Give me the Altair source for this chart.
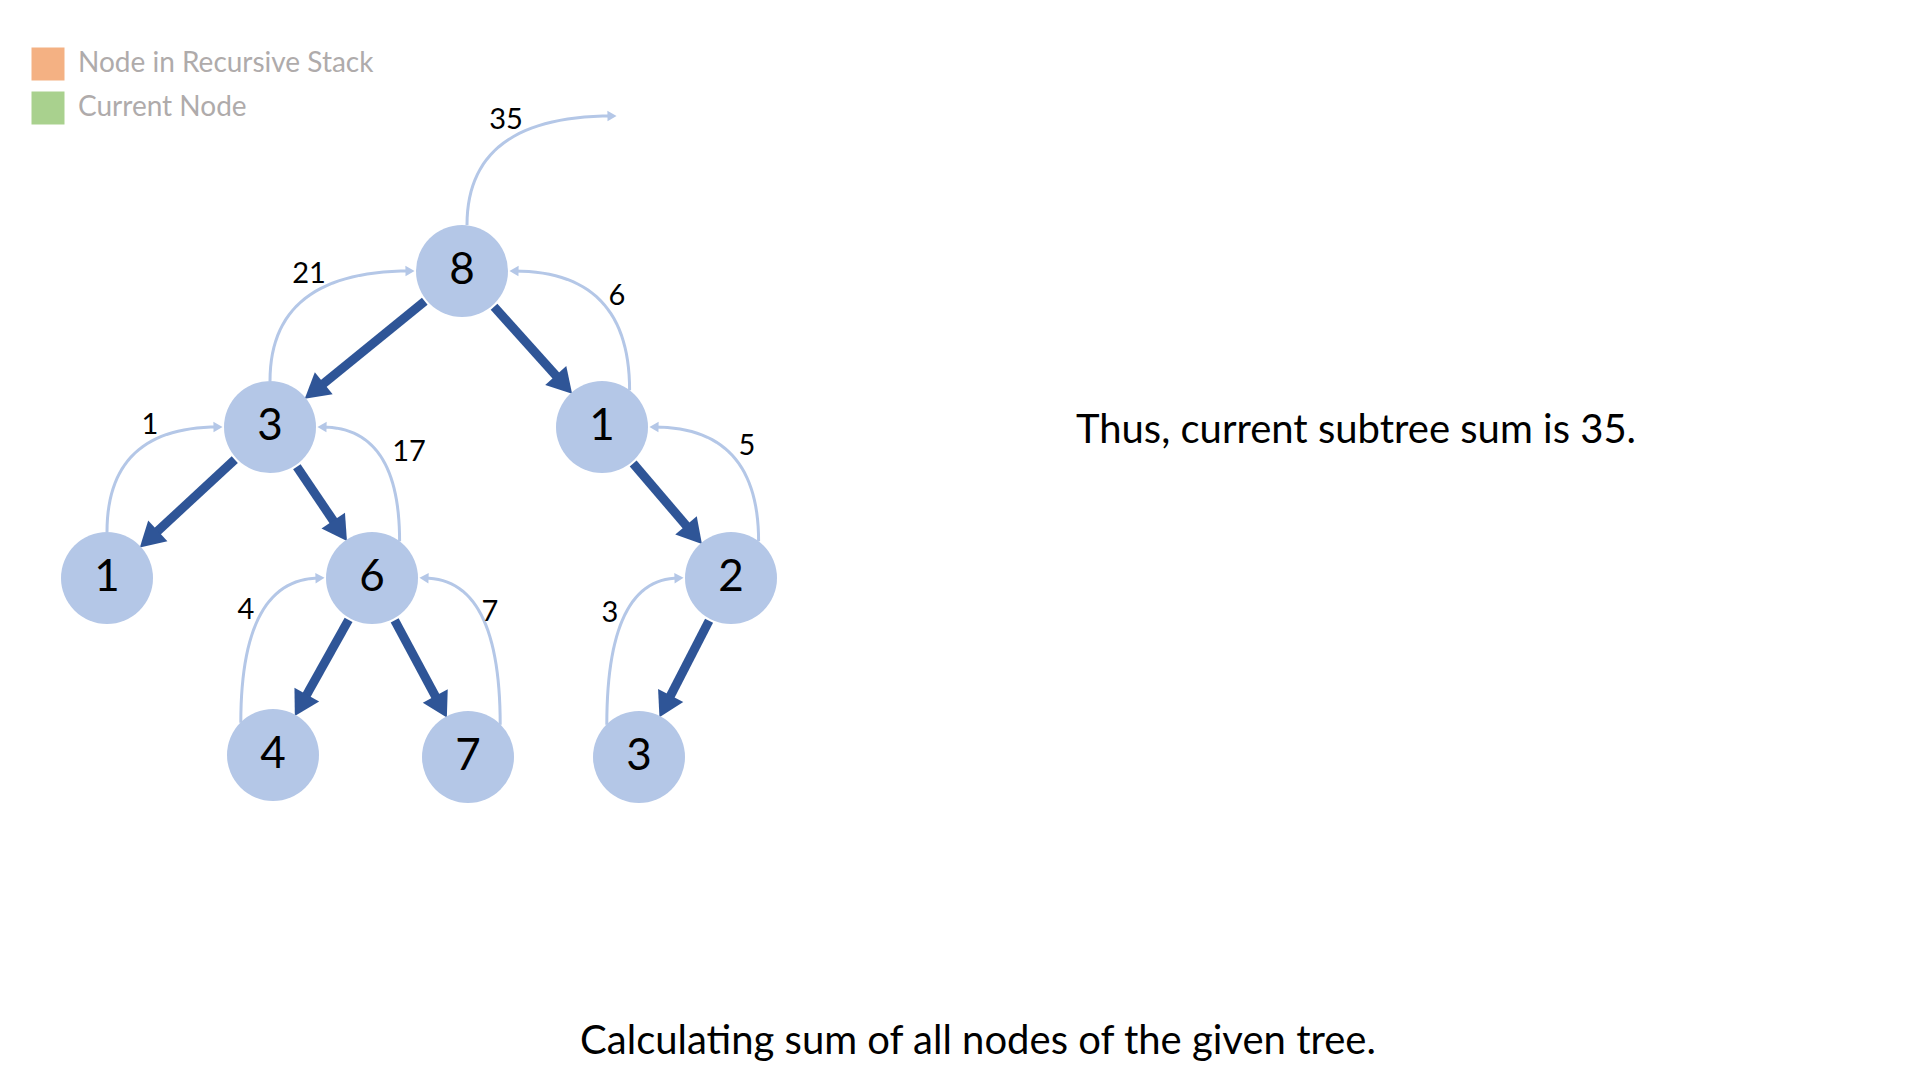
import math

import altair as alt
import pandas as pd

# tree nodes (screen pixel positions) and values
node_x = [462, 270, 602, 107, 372, 731, 273, 468, 639]
node_y = [271, 427, 427, 578, 578, 578, 755, 757, 757]
node_val = ["8", "3", "1", "1", "6", "2", "4", "7", "3"]

# parent -> child edges
edge_parent = [0, 0, 1, 1, 2, 4, 4, 5]
edge_child = [1, 2, 3, 4, 5, 6, 7, 8]

# returned sums: child -> parent curve, start offset (x, y) as fraction of radius, side of parent hit
ret_child = [1, 2, 3, 4, 5, 6, 7, 8]
ret_parent = [0, 0, 1, 1, 2, 4, 4, 5]
ret_dx = [0.0, 0.6, 0.0, 0.6, 0.6, -0.7, 0.7, -0.7]
ret_dy = [-1.0, -0.8, -1.0, -0.8, -0.8, -0.7, -0.7, -0.7]
ret_side = [-1, 1, -1, 1, 1, -1, 1, -1]
ret_val = ["21", "6", "1", "17", "5", "4", "7", "3"]
ret_lx = [309, 617, 150, 409, 747, 246, 490, 610]
ret_ly = [274, 296, 425, 452, 446, 610, 612, 613]

root_sum = "35"
root_lx, root_ly = 506, 120
root_end = (612, 116)

legend_labels = ["Node in Recursive Stack", "Current Node"]
legend_colors = ["#F4B183", "#A9D18E"]

R = 46
NODE = "#B4C7E7"
DARK = "#2F5597"
FONT = "Lato"


def heading(dx, dy):
    return math.degrees(math.atan2(dx, -dy)) % 360


# thick parent->child arrows
thick_rows, thick_heads = [], []
for i, (p, c) in enumerate(zip(edge_parent, edge_child)):
    dx, dy = node_x[c] - node_x[p], node_y[c] - node_y[p]
    d = math.hypot(dx, dy)
    ux, uy = dx / d, dy / d
    sx, sy = node_x[p] + ux * (R + 2), node_y[p] + uy * (R + 2)
    tx, ty = node_x[c] - ux * (R + 2), node_y[c] - uy * (R + 2)
    ex, ey = tx - ux * 14, ty - uy * 14
    thick_rows += [{"e": i, "o": 0, "x": sx, "y": sy}, {"e": i, "o": 1, "x": ex, "y": ey}]
    thick_heads.append({"x": tx - ux * 9, "y": ty - uy * 9, "a": heading(ux, uy)})


def bezier(i, s, e, rows, heads):
    cx, cy = s[0], e[1]
    pts = []
    for k in range(31):
        t = k / 30
        x = (1 - t) ** 2 * s[0] + 2 * (1 - t) * t * cx + t ** 2 * e[0]
        y = (1 - t) ** 2 * s[1] + 2 * (1 - t) * t * cy + t ** 2 * e[1]
        pts.append((x, y))
    for k, (x, y) in enumerate(pts):
        rows.append({"e": i, "o": k, "x": x, "y": y})
    (x0, y0), (x1, y1) = pts[-2], pts[-1]
    heads.append({"x": x1, "y": y1, "a": heading(x1 - x0, y1 - y0)})


curve_rows, curve_heads = [], []
for i in range(len(ret_child)):
    c, p = ret_child[i], ret_parent[i]
    s = (node_x[c] + ret_dx[i] * R, node_y[c] + ret_dy[i] * R)
    e = (node_x[p] + ret_side[i] * (R + 6), node_y[p])
    bezier(i, s, e, curve_rows, curve_heads)
bezier(99, (node_x[0] + 5, node_y[0] - R), root_end, curve_rows, curve_heads)

nodes = pd.DataFrame({"x": node_x, "y": node_y, "v": node_val})
sums = pd.DataFrame({"x": ret_lx + [root_lx], "y": ret_ly + [root_ly], "v": ret_val + [root_sum]})
legend = pd.DataFrame({"x": [48, 48], "y": [64, 108], "lab": legend_labels, "c": legend_colors})
texts = pd.DataFrame({
    "x": [1356, 978],
    "y": [431, 1042],
    "t": ["Thus, current subtree sum is 35.", "Calculating sum of all nodes of the given tree."],
})

xs = alt.Scale(domain=[8, 1912], nice=False, zero=False)
ys = alt.Scale(domain=[8, 1072], nice=False, zero=False, reverse=True)
X = alt.X("x:Q", scale=xs, axis=None)
Y = alt.Y("y:Q", scale=ys, axis=None)

curves = alt.Chart(pd.DataFrame(curve_rows)).mark_line(color=NODE, strokeWidth=3).encode(
    x=X, y=Y, detail="e:N", order="o:Q")
curve_tips = alt.Chart(pd.DataFrame(curve_heads)).mark_point(
    shape="triangle-up", filled=True, color=NODE, opacity=1, size=110).encode(
    x=X, y=Y, angle=alt.Angle("a:Q", scale=None))
thick = alt.Chart(pd.DataFrame(thick_rows)).mark_line(color=DARK, strokeWidth=9).encode(
    x=X, y=Y, detail="e:N", order="o:Q")
thick_tips = alt.Chart(pd.DataFrame(thick_heads)).mark_point(
    shape="triangle-up", filled=True, color=DARK, opacity=1, size=800).encode(
    x=X, y=Y, angle=alt.Angle("a:Q", scale=None))
circles = alt.Chart(nodes).mark_circle(color=NODE, opacity=1, size=(2 * R) ** 2).encode(x=X, y=Y)
node_text = alt.Chart(nodes).mark_text(font=FONT, fontSize=44, color="black", baseline="middle").encode(
    x=X, y=Y, text="v:N")
sum_text = alt.Chart(sums).mark_text(font=FONT, fontSize=29, color="black", baseline="middle").encode(
    x=X, y=Y, text="v:N")
legend_box = alt.Chart(legend).mark_square(size=33 * 33, opacity=1).encode(
    x=X, y=Y, color=alt.Color("c:N", scale=None))
legend_text = alt.Chart(legend).mark_text(
    font=FONT, fontSize=28, color="#AFABAB", align="left", baseline="middle", dx=30).encode(
    x=X, y=Y, text="lab:N")
captions = alt.Chart(texts).mark_text(font=FONT, fontSize=40, color="black", baseline="middle").encode(
    x=X, y=Y, text="t:N")

chart = alt.layer(
    curves, curve_tips, thick, thick_tips, circles, node_text, sum_text, legend_box, legend_text, captions
).properties(
    width=1904, height=1064, padding=0, autosize=alt.AutoSizeParams(type="none")
).configure_view(stroke=None)

chart.save("out.html", embed_options={"renderer": "svg", "actions": False})
